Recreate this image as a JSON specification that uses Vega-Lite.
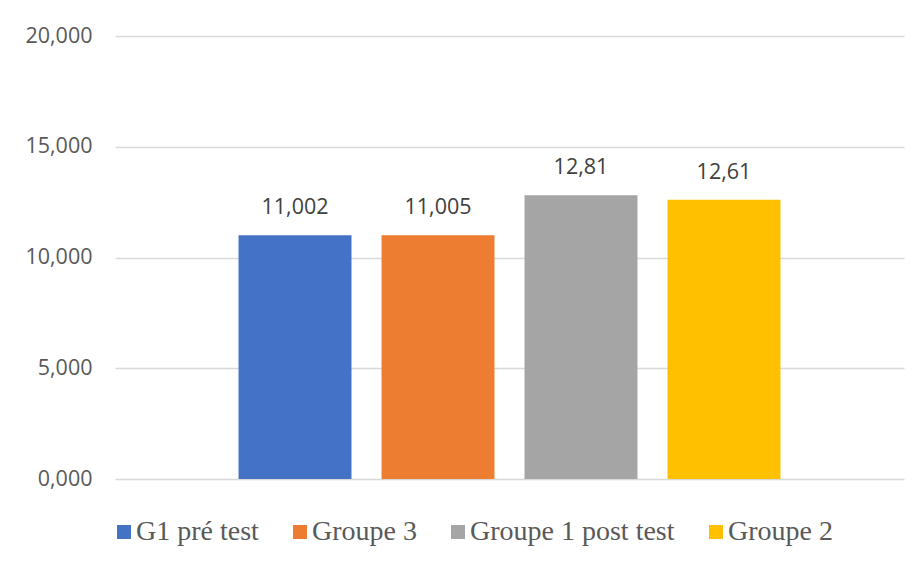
{
  "$schema": "https://vega.github.io/schema/vega-lite/v6.json",
  "autosize": {"type": "none"},
  "padding": {"left": 115, "top": 36, "right": 18, "bottom": 87},
  "width": 789,
  "height": 443,
  "background": "white",
  "config": {
    "locale": {"number": {"decimal": ",", "thousands": ".", "grouping": [3], "currency": ["", " €"]}},
    "view": {"stroke": null},
    "font": "Open Sans"
  },
  "data": {
    "values": [
      {"groupe": "G1 pré test", "valeur": 11.002},
      {"groupe": "Groupe 3", "valeur": 11.005},
      {"groupe": "Groupe 1 post test", "valeur": 12.81},
      {"groupe": "Groupe 2", "valeur": 12.61}
    ]
  },
  "encoding": {
    "x": {
      "field": "groupe",
      "type": "nominal",
      "sort": null,
      "scale": {"paddingInner": 0.21, "paddingOuter": 0.864},
      "axis": null
    },
    "y": {
      "field": "valeur",
      "type": "quantitative",
      "scale": {"domain": [0, 20], "nice": false},
      "axis": {
        "title": null,
        "values": [0, 5, 10, 15, 20],
        "format": ".3f",
        "domain": false,
        "ticks": false,
        "labelPadding": 23,
        "labelFont": "Open Sans",
        "labelFontSize": 21.5,
        "labelColor": "#595959",
        "gridColor": "#d9d9d9",
        "gridWidth": 1.3
      }
    }
  },
  "layer": [
    {
      "mark": {"type": "bar"},
      "encoding": {
        "color": {
          "field": "groupe",
          "type": "nominal",
          "sort": null,
          "scale": {
            "domain": ["G1 pré test", "Groupe 3", "Groupe 1 post test", "Groupe 2"],
            "range": ["#4472C4", "#ED7D31", "#A5A5A5", "#FFC000"]
          },
          "legend": {
            "title": null,
            "orient": "none",
            "legendX": -5,
            "legendY": 482,
            "direction": "horizontal",
            "padding": 0,
            "symbolType": "square",
            "symbolSize": 196,
            "symbolStrokeWidth": 0,
            "labelFont": "Liberation Serif",
            "labelFontSize": 28,
            "labelColor": "#595959",
            "labelOffset": -2,
            "columnPadding": 27,
            "labelLimit": 400
          }
        }
      }
    },
    {
      "mark": {"type": "text", "baseline": "bottom", "dy": -16, "font": "Open Sans", "fontSize": 21.5, "color": "#404040"},
      "encoding": {
        "text": {"field": "valeur", "type": "quantitative", "format": ".5~g"}
      }
    }
  ]
}
